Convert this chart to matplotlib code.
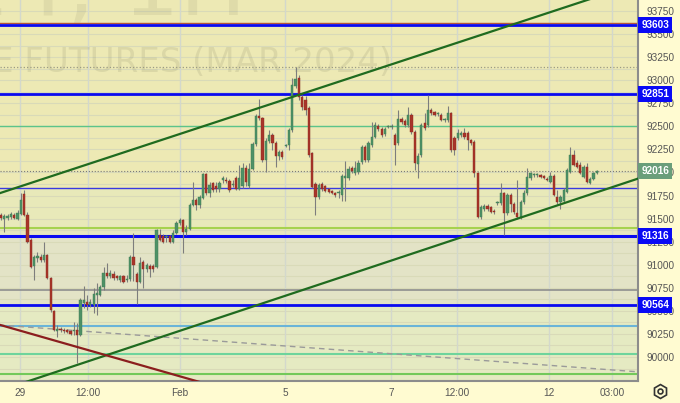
import numpy as np
import matplotlib.pyplot as plt
from matplotlib.lines import Line2D

plt.rcParams['font.family'] = ['Liberation Sans', 'DejaVu Sans']

# hourly candles
opens = [91539, 91496, 91506, 91517, 91539, 91496, 91550, 91766, 91539, 91268,
         90986, 91073, 91084, 91051, 91105, 90856, 90498, 90282, 90303, 90292,
         90292, 90282, 90282, 90292, 90238, 90585, 90596, 90563, 90563, 90672,
         90672, 90759, 90910, 90878, 90899, 90878, 90834, 90878, 90834, 90845,
         91084, 90899, 90813, 91029, 90954, 90986, 90986, 90975, 91322, 91311,
         91301, 91311, 91246, 91344, 91452, 91485, 91355, 91387, 91647, 91701,
         91647, 91723, 91983, 91777, 91886, 91853, 91821, 91918, 91918, 91907,
         91864, 91940, 91821, 91853, 92048, 91853, 92037, 92309, 92612, 92590,
         92135, 92341, 92406, 92319, 92178, 92222, 92287, 92298, 92460, 92937,
         93024, 92818, 92785, 92699, 92211, 91875, 91734, 91875, 91853, 91821,
         91799, 91777, 91777, 91756, 91940, 91940, 92048, 91994, 92005, 92113,
         92276, 92135, 92298, 92384, 92504, 92471, 92417, 92493, 92493, 92406,
         92319, 92580, 92558, 92514, 92623, 92439, 92092, 92189, 92536, 92514,
         92677, 92655, 92634, 92623, 92569, 92569, 92645, 92374, 92374, 92406,
         92428, 92428, 92352, 92330, 91994, 91517, 91604, 91636, 91626, 91582,
         91669, 91669, 91777, 91561, 91756, 91658, 91561, 91517, 91680, 91777,
         91940, 91972, 91972, 91972, 91962, 91929, 91897, 91962, 91734, 91680,
         91691, 91788, 92005, 92189, 92102, 92081, 91951, 92059, 91886, 91929,
         91994]
closes = [91506, 91528, 91528, 91550, 91506, 91561, 91701, 91539, 91246, 90975,
          91084, 91095, 91051, 91105, 90856, 90509, 90292, 90303, 90292, 90282,
          90271, 90249, 90282, 90238, 90618, 90618, 90563, 90596, 90683, 90694,
          90759, 90910, 90878, 90910, 90856, 90856, 90878, 90813, 90845, 91084,
          90997, 90813, 91019, 90954, 90997, 90954, 90954, 91376, 91268, 91246,
          91301, 91246, 91344, 91452, 91485, 91355, 91387, 91647, 91701, 91647,
          91734, 91983, 91777, 91864, 91810, 91821, 91886, 91940, 91907, 91810,
          91875, 91821, 91940, 92048, 91897, 92037, 92309, 92612, 92590, 92135,
          92341, 92406, 92319, 92178, 92222, 92167, 92298, 92460, 92948, 93013,
          92818, 92710, 92677, 92189, 91842, 91734, 91864, 91821, 91799, 91788,
          91777, 91756, 91777, 91962, 91962, 92037, 92016, 92048, 92102, 92276,
          92135, 92319, 92384, 92514, 92471, 92406, 92471, 92493, 92504, 92298,
          92580, 92547, 92514, 92623, 92439, 92102, 92178, 92514, 92482, 92677,
          92645, 92623, 92634, 92569, 92569, 92645, 92243, 92243, 92428, 92428,
          92384, 92352, 92319, 91994, 91517, 91626, 91636, 91604, 91571, 91571,
          91669, 91777, 91561, 91756, 91658, 91571, 91517, 91680, 91777, 91951,
          91994, 91972, 91983, 91951, 91940, 91918, 91962, 91756, 91680, 91734,
          91810, 92027, 92189, 92081, 92059, 91994, 92059, 91897, 91929, 91994,
          92016]
highs = [91561, 91550, 91550, 91571, 91561, 91593, 91777, 91810, 91571, 91290,
         91105, 91138, 91116, 91246, 91116, 90867, 90509, 90347, 90325, 90314,
         90303, 90292, 90379, 90368, 90639, 90769, 90672, 90628, 90748, 90802,
         90780, 90975, 91019, 90943, 90932, 90889, 90889, 90889, 90889, 91105,
         91344, 90921, 91084, 91051, 91019, 91008, 91008, 91387, 91387, 91333,
         91322, 91322, 91376, 91474, 91506, 91496, 91431, 91669, 91897, 91723,
         91756, 91994, 91994, 91897, 91897, 91897, 91907, 91962, 91951, 91929,
         91918, 91962, 92081, 92102, 92081, 92102, 92330, 92634, 92796, 92601,
         92374, 92460, 92428, 92341, 92243, 92243, 92309, 92482, 93024, 93143,
         93056, 92840, 92829, 92720, 92222, 91897, 91886, 91897, 91864, 91831,
         91810, 91788, 91810, 91983, 92124, 92070, 92070, 92124, 92135, 92298,
         92298, 92341, 92547, 92547, 92525, 92493, 92493, 92514, 92525, 92428,
         92677, 92601, 92580, 92710, 92645, 92460, 92211, 92536, 92645, 92840,
         92699, 92666, 92655, 92645, 92590, 92720, 92655, 92395, 92471, 92449,
         92482, 92449, 92363, 92352, 92005, 91647, 91658, 91658, 91636, 91604,
         91691, 91886, 91788, 91777, 91777, 91680, 91918, 91701, 91810, 92048,
         92005, 91994, 91994, 91983, 91972, 91951, 92005, 91983, 91810, 91756,
         91831, 92048, 92276, 92243, 92135, 92113, 92081, 92102, 91951, 92005,
         92027]
lows = [91485, 91355, 91485, 91496, 91496, 91485, 91539, 91528, 91235, 90964,
        90834, 91029, 91029, 91029, 90845, 90488, 90282, 90217, 90271, 90260,
        90260, 90238, 90238, 89935, 90227, 90531, 90509, 90542, 90477, 90455,
        90661, 90726, 90856, 90856, 90834, 90834, 90813, 90802, 90813, 90824,
        90824, 90574, 90802, 90748, 90921, 90867, 90921, 90964, 91257, 91235,
        91246, 91235, 91235, 91333, 91431, 91127, 91322, 91376, 91636, 91593,
        91615, 91712, 91756, 91734, 91788, 91788, 91788, 91886, 91886, 91788,
        91842, 91810, 91810, 91831, 91853, 91831, 92027, 92287, 92569, 92113,
        92005, 92319, 92243, 92059, 92135, 92146, 92276, 92243, 92439, 92915,
        92785, 92677, 92623, 92167, 91831, 91539, 91712, 91799, 91788, 91777,
        91766, 91734, 91723, 91691, 91691, 91918, 91994, 91972, 91983, 92092,
        92113, 92113, 92276, 92374, 92449, 92384, 92395, 92482, 92471, 92081,
        92298, 92525, 92493, 92493, 92417, 92027, 91940, 92167, 92460, 92493,
        92623, 92612, 92612, 92558, 92547, 92547, 92222, 92189, 92352, 92384,
        92363, 92243, 92298, 91951, 91506, 91496, 91582, 91582, 91561, 91550,
        91647, 91647, 91322, 91539, 91571, 91550, 91496, 91496, 91658, 91756,
        91918, 91951, 91951, 91940, 91929, 91907, 91886, 91745, 91658, 91604,
        91669, 91777, 91994, 92070, 92048, 91983, 91940, 91886, 91875, 91918,
        91983]

last_price = 92016
boxed_levels = [93603, 92851, 91316, 90564]

# horizontal drawings
level_prices = [93625, 93603, 93140, 92851, 92505, 91830, 91395, 91316, 90725, 90564, 90335, 90035, 89820]
level_colors = ['#B5553A', '#0A0AF0', '#9A9A86', '#0A0AF0', '#5CC48A', '#3A3AE0', '#A6D24E',
                '#0A0AF0', '#8E8E8E', '#0A0AF0', '#6AB4D8', '#6ED49C', '#73C95A']
level_widths = [1.0, 2.0, 0.9, 2.0, 1.0, 1.0, 1.5, 2.2, 1.2, 2.0, 1.5, 1.5, 1.5]
level_styles = ['-', '-', ':', '-', '-', '-', '-', '-', '-', '-', '-', '-', '-']

# trend lines: (bar index, price) anchor pairs
upper_trend = ([-1, 190], [91768, 94021])
lower_trend = ([-1, 193], [89628, 91940])
red_trend = ([-1, 70], [90355, 89627])
dashed_trend = ([-1, 193], [90348, 89838])

tick_labels = ['29', '12:00', 'Feb', '5', '7', '12:00', '12', '03:00']
tick_pos = [5.7, 26.3, 54.1, 85.8, 117.8, 137.8, 165.6, 184.6]

fig = plt.figure(figsize=(6.8, 4.03), dpi=100, facecolor='#FFFBD1')
ax = fig.add_axes([0, 22 / 403, 638 / 680, 381 / 403])
ax.set_facecolor('#EDE9B4')
ax.set_xlim(-0.3, 192.45)
ax.set_ylim(89740, 93869)

# shaded zones
ax.axhspan(91395, 91830, color='#E8E9B9', zorder=0.1, lw=0)
ax.axhspan(91316, 91395, color='#E6E6BE', zorder=0.1, lw=0)
ax.axhspan(90564, 91316, color='#E3E3C6', zorder=0.1, lw=0)
ax.axhspan(89740, 90564, color='#E5EAC2', zorder=0.1, lw=0)

for v in np.arange(89750, 93875, 125):
    ax.axhline(v, color='#D9DAB8', lw=0.8, zorder=0.5)
for t in tick_pos:
    ax.axvline(t, color='#D3D8CC', lw=1.0, zorder=0.5)

# watermark
ax.text(-0.3 + 247 / 3.31, 93869 - 15 * 10.838, 'SIH2024, 1H', fontsize=64, family='DejaVu Sans',
        color='#8a8a6a', alpha=0.14, ha='right', va='baseline', zorder=0.8, clip_on=True)
ax.text(-0.3 + 392 / 3.31, 93869 - 62 * 10.838, 'E FUTURES (MAR 2024)', fontsize=24.5, family='DejaVu Sans',
        color='#8a8a6a', alpha=0.18, ha='right', va='center', zorder=0.8, clip_on=True)

for p, c, w, s in zip(level_prices, level_colors, level_widths, level_styles):
    ax.axhline(p, color=c, lw=w, ls=s, zorder=2)
ax.axhline(last_price, color='#7a7a7a', lw=0.8, ls=':', zorder=2)
ax.plot(*dashed_trend, color='#9a9a9a', lw=1.0, ls=(0, (4, 3)), zorder=2)

o = np.array(opens)
c = np.array(closes)
idx = np.arange(len(o))
up = c >= o
body_lo = np.minimum(o, c)
body_h = np.maximum(np.abs(c - o), 8)
ax.vlines(idx, lows, highs, color='#7d7d7d', lw=0.8, zorder=3)
ax.bar(idx, body_h, bottom=body_lo, width=0.68,
       color=np.where(up, '#4E9166', '#A8352A'),
       edgecolor=np.where(up, '#3E7A53', '#8E2A20'), lw=0.3, zorder=4)

ax.plot(*upper_trend, color='#1F6B1F', lw=1.6, zorder=5)
ax.plot(*lower_trend, color='#1F6B1F', lw=1.6, zorder=5)
ax.plot(*red_trend, color='#8B1E1E', lw=1.6, zorder=5)

for s in ['top', 'left']:
    ax.spines[s].set_visible(False)
for s in ['right', 'bottom']:
    ax.spines[s].set_color('#8C8C8C')
    ax.spines[s].set_linewidth(1.5)

ax.yaxis.tick_right()
ax.set_yticks(np.arange(90000, 93751, 250))
ax.tick_params(axis='y', length=0, pad=6, labelsize=7.2, labelcolor='#555555')
ax.set_xticks(tick_pos, tick_labels)
ax.tick_params(axis='x', length=0, pad=5, labelsize=7.2, labelcolor='#555555')

trans = ax.get_yaxis_transform()
for p in boxed_levels:
    ax.text(1.005, p, str(p), transform=trans, ha='left', va='center', fontsize=7.2,
            fontweight='bold', color='white', zorder=10, clip_on=False,
            bbox=dict(boxstyle='square,pad=0.3', fc='#0A0AF5', ec='none'))
ax.text(1.005, last_price, str(last_price), transform=trans, ha='left', va='center', fontsize=7.2,
        fontweight='bold', color='white', zorder=10, clip_on=False,
        bbox=dict(boxstyle='square,pad=0.3', fc='#6A9E7A', ec='none'))

# settings gear
fig.add_artist(Line2D([660 / 680], [12 / 403], marker='h', markersize=10, mfc='none',
                      mec='#333333', mew=1.2, transform=fig.transFigure))
fig.add_artist(Line2D([660 / 680], [12 / 403], marker='o', markersize=3.5, mfc='none',
                      mec='#333333', mew=1.2, transform=fig.transFigure))

fig.savefig('out.png', dpi=100, facecolor=fig.get_facecolor())
